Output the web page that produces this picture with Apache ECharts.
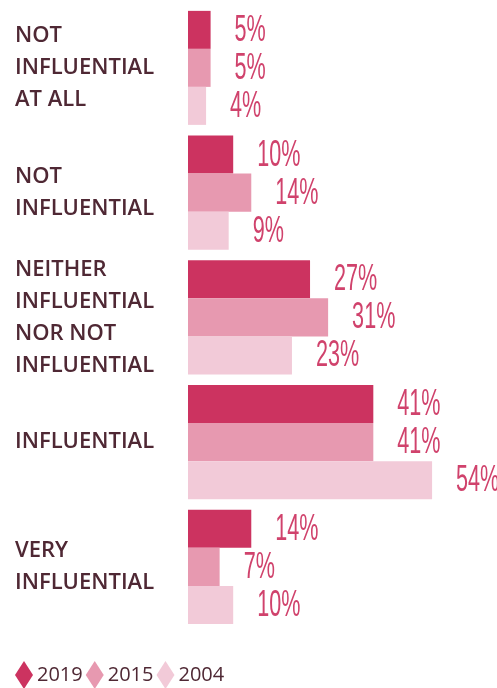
<!DOCTYPE html>
<html>
<head>
<meta charset="utf-8">
<script src="https://cdn.jsdelivr.net/npm/echarts@6/dist/echarts.min.js"></script>
<style>
  html, body { margin: 0; padding: 0; background: #ffffff; }
  #chart { width: 497px; height: 688px; }
</style>
</head>
<body>
<div id="chart"></div>
<script>
// Survey answers, top to bottom
const categories = [
  'NOT\nINFLUENTIAL\nAT ALL',
  'NOT\nINFLUENTIAL',
  'NEITHER\nINFLUENTIAL\nNOR NOT\nINFLUENTIAL',
  'INFLUENTIAL',
  'VERY\nINFLUENTIAL'
];
const years = ['2019', '2015', '2004'];
const values2019 = [5, 10, 27, 41, 14];
const values2015 = [5, 14, 31, 41, 7];
const values2004 = [4, 9, 23, 54, 10];

const colors = ['#cc3360', '#e799b0', '#f2cad8'];
const labelColor = '#d0426c';
const textColor = '#4f2834';
const gapRatio = 0.086;

const seriesValues = [values2019, values2015, values2004];

const barSeries = years.map((y, i) => ({
  name: y,
  type: 'bar',
  data: seriesValues[i],
  barGap: '0%',
  barCategoryGap: (gapRatio * 100) + '%',
  itemStyle: { color: colors[i] },
  silent: true
}));

// Condensed percentage labels beside each bar
const labelSeries = years.map((y, i) => ({
  name: y + '-label',
  type: 'custom',
  silent: true,
  z: 5,
  data: seriesValues[i].map((v, c) => [v, c]),
  encode: { x: 0, y: 1 },
  renderItem: function (params, api) {
    const v = api.value(0);
    const c = api.value(1);
    const pt = api.coord([v, c]);
    const band = api.size([0, 1])[1];
    const barH = band * (1 - gapRatio) / 3;
    return {
      type: 'text',
      x: pt[0] + 24,
      y: pt[1] + (i - 1) * barH + 1,
      scaleX: 0.6,
      style: {
        text: v + '%',
        fill: labelColor,
        font: '36px "Liberation Sans Narrow", "Liberation Sans", sans-serif',
        textAlign: 'left',
        textVerticalAlign: 'middle'
      }
    };
  }
}));

const chart = echarts.init(document.getElementById('chart'), null, { renderer: 'canvas' });
chart.setOption({
  animation: false,
  backgroundColor: '#ffffff',
  grid: { left: 188, top: 5.5, width: 271.2, height: 623.75 },
  xAxis: {
    type: 'value', min: 0, max: 60, show: false
  },
  yAxis: {
    type: 'category',
    data: categories,
    inverse: true,
    axisLine: { show: false },
    axisTick: { show: false },
    splitLine: { show: false },
    axisLabel: {
      align: 'left',
      margin: 173,
      color: textColor,
      fontFamily: '"Open Sans", sans-serif',
      fontWeight: 600,
      fontSize: 22,
      lineHeight: 32,
      padding: [10, 0, 0, 0]
    }
  },
  legend: {
    data: years,
    left: 15,
    top: 661,
    padding: 0,
    icon: 'diamond',
    itemWidth: 18,
    itemHeight: 28,
    itemGap: 3,
    textStyle: {
      color: textColor,
      fontFamily: '"Open Sans", sans-serif',
      fontWeight: 500,
      fontSize: 20,
      padding: [0, 0, 0, -1]
    },
    selectedMode: false
  },
  series: [...barSeries, ...labelSeries]
});
</script>
</body>
</html>
